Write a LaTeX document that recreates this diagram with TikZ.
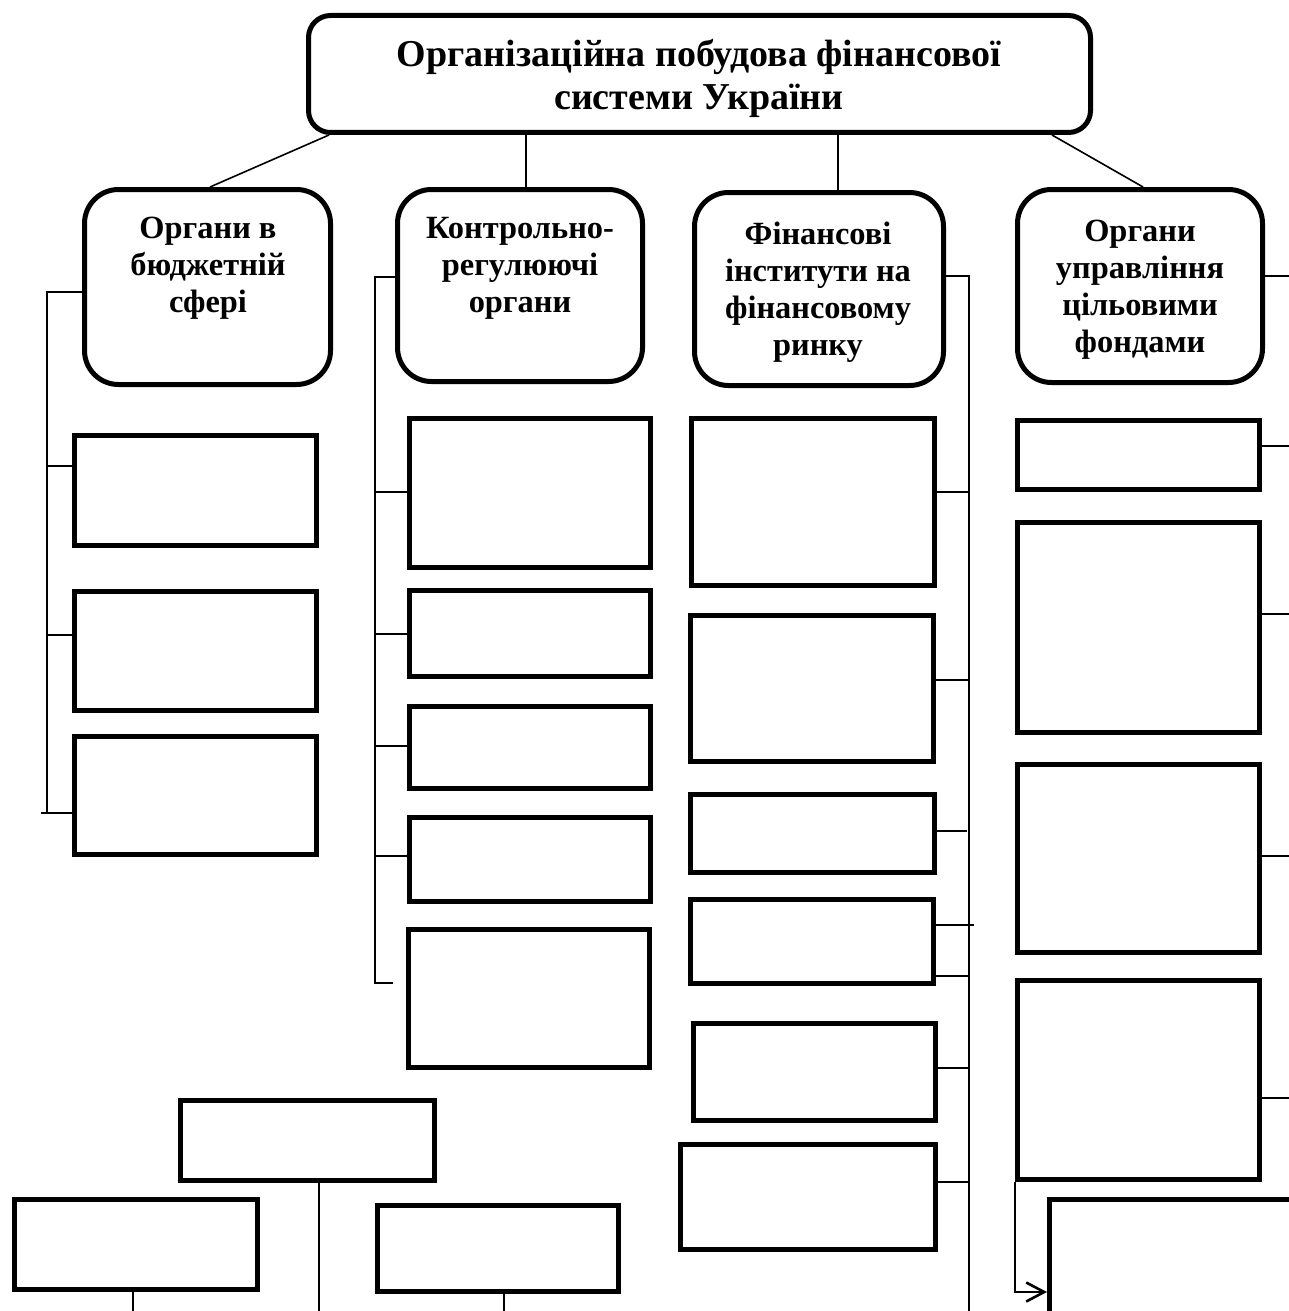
\documentclass[tikz,border=0pt]{standalone}
\usepackage{fontspec}
\setmainfont{Liberation Serif}
\usetikzlibrary{fit,arrows.meta}
\begin{document}
\begin{tikzpicture}[x=0.5pt,y=-0.5pt,
  box/.style={draw, line width=2.5pt, inner sep=0pt},
  hdr/.style={box, rounded corners=17pt},
  ttlbox/.style={box, rounded corners=11pt},
  conn/.style={line width=0.8pt},
  lbl/.style={font=\fontsize{16.2}{18.5}\selectfont\bfseries, align=center, inner sep=0pt},
  ttl/.style={font=\fontsize{19}{21.5}\selectfont\bfseries, align=center, inner sep=0pt},
  tip/.style={-{Straight Barb[length=9pt,width=9.5pt,line width=1.3pt]}}
]
\clip (0,0) rectangle (1289,1311);
\fill[white] (0,0) rectangle (1289,1311);

% title
\node[ttlbox, fit={(308.5,15.5) (1090.5,132.5)}] (top) {};
\node[ttl] (topT) at (699,78) {Організаційна побудова фінансової\\системи України};

% headers
\node[hdr, fit={(84.5,189.5) (330.5,384.5)}] (b1) {};
\node[hdr, fit={(397.5,189.5) (642.5,381.5)}] (b2) {};
\node[hdr, fit={(694.5,192.5) (943.5,385.5)}] (b3) {};
\node[hdr, fit={(1017.5,189.5) (1262.5,382.5)}] (b4) {};
\node[lbl] (t1) at (208,268) {Органи в\\бюджетній\\сфері};
\node[lbl] (t2) at (520,268) {Контрольно-\\регулюючі\\органи};
\node[lbl] (t3) at (818,292) {Фінансові\\інститути на\\фінансовому\\ринку};
\node[lbl] (t4) at (1140,290) {Органи\\управління\\цільовими\\фондами};

% column 1 children
\node[box, fit={(74.5,435.5) (316.5,545.5)}] (b1a) {};
\node[box, fit={(74.5,591.5) (316.5,710.5)}] (b1b) {};
\node[box, fit={(74.5,736.5) (316.5,854.5)}] (b1c) {};
% column 2 children
\node[box, fit={(409.5,418.5) (650.5,567.5)}] (c2a) {};
\node[box, fit={(409.5,590.5) (650.5,676.5)}] (c2b) {};
\node[box, fit={(409.5,706.5) (650.5,788.5)}] (c2c) {};
\node[box, fit={(409.5,817.5) (650.5,901.5)}] (c2d) {};
\node[box, fit={(408.5,929.5) (649.5,1067.5)}] (c2e) {};
% column 3 children
\node[box, fit={(691.5,418.5) (934.5,585.5)}] (d3a) {};
\node[box, fit={(690.5,615.5) (933.5,761.5)}] (d3b) {};
\node[box, fit={(690.5,794.5) (934.5,872.5)}] (d3c) {};
\node[box, fit={(690.5,899.5) (933.5,983.5)}] (d3d) {};
\node[box, fit={(693.5,1023.5) (935.5,1120.5)}] (d3e) {};
\node[box, fit={(680.5,1144.5) (935.5,1249.5)}] (d3f) {};
% column 4 children
\node[box, fit={(1017.5,420.5) (1259.5,489.5)}] (e4a) {};
\node[box, fit={(1017.5,522.5) (1259.5,732.5)}] (e4b) {};
\node[box, fit={(1017.5,764.5) (1259.5,952.5)}] (e4c) {};
\node[box, fit={(1017.5,980.5) (1259.5,1179.5)}] (e4d) {};
\node[box, fit={(1049.5,1199.5) (1310,1330)}] (e4e) {};
% bottom left
\node[box, fit={(180.5,1100.5) (434.5,1180.5)}] (f1) {};
\node[box, fit={(14.5,1199.5) (257.5,1289.5)}] (f2) {};
\node[box, fit={(377.5,1205.5) (618.5,1291.5)}] (f3) {};

% title connectors
\draw[conn] (top.south -| 329,0) -- (b1.north -| 210,0);
\draw[conn] (top.south -| 526,0) -- (b2.north -| 526,0);
\draw[conn] (top.south -| 838,0) -- (b3.north -| 838,0);
\draw[conn] (top.south -| 1052,0) -- (b4.north -| 1143,0);

% column 1 bus
\coordinate (k1t) at (47,292);
\coordinate (k1b) at (47,813);
\coordinate (k1x) at (41,813);
\draw[conn] (b1.west |- k1t) -- (k1t) -- (k1b);
\draw[conn] (k1t |- 0,466) -- (b1a.west |- 0,466);
\draw[conn] (k1t |- 0,635) -- (b1b.west |- 0,635);
\draw[conn] (k1x) -- (b1c.west |- k1x);

% column 2 bus
\coordinate (k2t) at (375,277);
\coordinate (k2b) at (375,983);
\coordinate (k2x) at (393,983);
\draw[conn] (b2.west |- k2t) -- (k2t) -- (k2b) -- (k2x);
\draw[conn] (k2t |- 0,492) -- (c2a.west |- 0,492);
\draw[conn] (k2t |- 0,634) -- (c2b.west |- 0,634);
\draw[conn] (k2t |- 0,746) -- (c2c.west |- 0,746);
\draw[conn] (k2t |- 0,856) -- (c2d.west |- 0,856);

% column 3 bus
\coordinate (k3t) at (969,276);
\coordinate (k3b) at (969,1320);
\coordinate (k3c) at (967,831);
\coordinate (k3d) at (974,925);
\draw[conn] (b3.east |- k3t) -- (k3t) -- (k3b);
\draw[conn] (d3a.east |- 0,492) -- (k3t |- 0,492);
\draw[conn] (d3b.east |- 0,680) -- (k3t |- 0,680);
\draw[conn] (d3c.east |- k3c) -- (k3c);
\draw[conn] (d3d.east |- k3d) -- (k3d);
\draw[conn] (d3d.east |- 0,976) -- (k3t |- 0,976);
\draw[conn] (d3e.east |- 0,1068) -- (k3t |- 0,1068);
\draw[conn] (d3f.east |- 0,1182) -- (k3t |- 0,1182);

% column 4 lines to the right edge
\coordinate (k4) at (1300,276);
\draw[conn] (b4.east |- k4) -- (k4);
\draw[conn] (e4a.east |- 0,446) -- (k4 |- 0,446);
\draw[conn] (e4b.east |- 0,614) -- (k4 |- 0,614);
\draw[conn] (e4c.east |- 0,856) -- (k4 |- 0,856);
\draw[conn] (e4d.east |- 0,1098) -- (k4 |- 0,1098);
\draw[conn, tip] (e4d.south west) |- (e4e.west |- 0,1292);

% bottom-left lines
\coordinate (kf1) at (319,1320);
\coordinate (kf2) at (133,1320);
\coordinate (kf3) at (504,1320);
\draw[conn] (f1.south -| kf1) -- (kf1);
\draw[conn] (f2.south -| kf2) -- (kf2);
\draw[conn] (f3.south -| kf3) -- (kf3);
\end{tikzpicture}
\end{document}
